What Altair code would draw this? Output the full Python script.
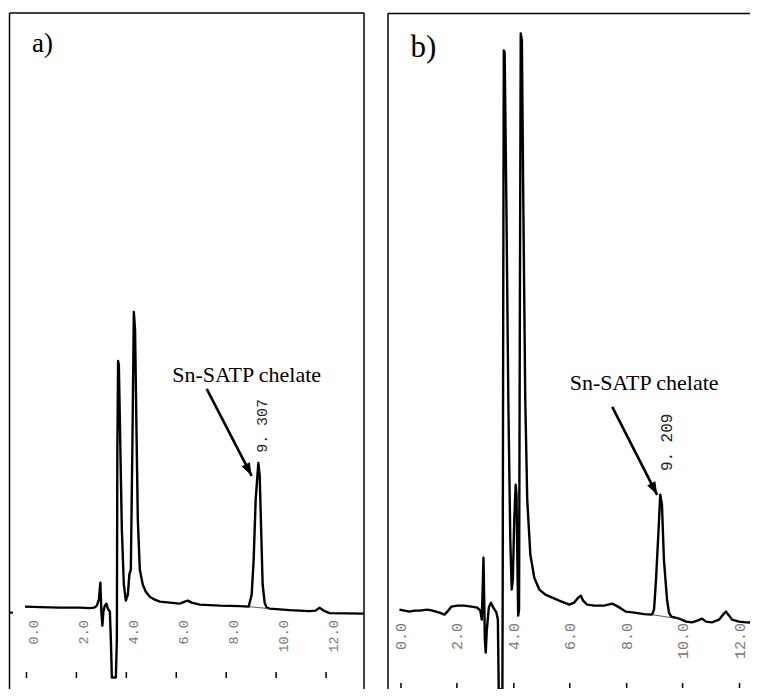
import altair as alt
import pandas as pd

# ---------------- data (time in min, signal in arbitrary units) ----------------
tick_values = [0, 2, 4, 6, 8, 10, 12]

a_time = [-0.04, 0.56, 1.36, 2.16, 2.56, 2.72, 2.84, 2.92, 2.98, 3.02, 3.06, 3.10, 3.16, 3.22,
          3.28, 3.36, 3.40, 3.44, 3.60, 3.64, 3.66, 3.69, 3.72, 3.76, 3.84, 3.92, 4.00, 4.08,
          4.14, 4.20, 4.26, 4.32, 4.37, 4.42, 4.48, 4.56, 4.68, 4.80, 4.96, 5.16, 5.36, 5.76,
          6.16, 6.36, 6.48, 6.64, 6.96, 7.76, 8.56, 8.92, 9.04, 9.12, 9.20, 9.307, 9.36, 9.42,
          9.48, 9.56, 9.64, 9.76, 10.56, 11.36, 11.60, 11.76, 11.92, 12.16, 13.52]
a_signal = [0, -0.5, -1, -1, -1.5, -1, 1, 7, 24, -5, -19, -5, 1, 3,
            -2, -5, -33, -71, -71, -33, 157, 246, 242, 187, 77, 22, 6, 12,
            32, 37, 157, 295, 277, 187, 87, 37, 22, 15, 10, 7, 5, 4,
            3, 5, 6, 4, 2, 1, 0.5, 0, 12, 47, 107, 144, 132, 77,
            22, 4, -1, -2, -3.5, -4.5, -4, -1, -4, -6.5, -7]

b_time = [-0.025, 0.15, 0.33, 0.51, 0.68, 0.97, 1.14, 1.39, 1.57, 1.67, 1.81, 2.03, 2.27, 2.52,
          2.73, 2.84, 2.89, 2.93, 2.95, 2.97, 3.00, 3.03, 3.07, 3.14, 3.21, 3.30, 3.41, 3.46,
          3.49, 3.62, 3.63, 3.65, 3.67, 3.70, 3.76, 3.83, 3.90, 3.95, 3.99, 4.04, 4.09, 4.12,
          4.15, 4.18, 4.21, 4.24, 4.27, 4.31, 4.36, 4.43, 4.50, 4.61, 4.75, 4.93, 5.14, 5.39,
          5.63, 5.81, 5.99, 6.16, 6.30, 6.40, 6.48, 6.62, 6.87, 7.22, 7.51, 7.65, 7.83, 8.00,
          8.29, 8.64, 8.92, 8.99, 9.06, 9.15, 9.209, 9.27, 9.34, 9.45, 9.52, 9.60, 9.88, 10.13,
          10.34, 10.52, 10.69, 10.83, 11.04, 11.29, 11.43, 11.54, 11.65, 11.75, 12.00, 12.25, 12.53]
b_signal = [0, -1, -2, -1, -1, 0, -1, -3, -5, -2, 3, 4, 4, 3,
            2, -1, -10, 30, 52, 20, -30, -43, -20, 2, 7, 2, -3, -10,
            -80, -80, 10, 310, 560, 558, 410, 210, 70, 20, 30, 90, 125, 115,
            50, -6, 0, 310, 577, 570, 410, 210, 110, 55, 32, 20, 15, 12,
            9, 7, 5, 7, 12, 14, 9, 5, 4, 4, 6, 4, 1, -2,
            -3, -4.5, -5, 0, 30, 80, 115, 105, 50, 10, -3, -7, -9, -12,
            -12.7, -11, -9, -12, -12.7, -10, -5, -2, -6, -10, -12, -12.7, -13]

# integration baselines under the chelate peaks
a_base_time = [8.92, 9.76]
a_base_signal = [0, -2]
b_base_time = [8.92, 10.05]
b_base_signal = [-5, -10]

# peak annotations
a_peak = {"t": 9.307, "s": 144, "label": "9. 307"}
b_peak = {"t": 9.209, "s": 115, "label": "9. 209"}
chelate_text = "Sn-SATP chelate"
a_text_pos = (8.84, 232)
b_text_pos = (8.64, 227)
a_arrow_t = [7.24, 9.04]
a_arrow_s = [218, 131]
b_arrow_t = [7.51, 9.10]
b_arrow_s = [203, 115]
a_letter = {"t": 0.24, "s": 555, "label": "a)"}
b_letter = {"t": 0.364, "s": 553, "label": "b)"}
a_zero_mark = -6  # small zero marker on the left border of panel a

ARROW_PATH = "M0,0L0.75,2.1L-0.75,2.1Z"


def make_panel(time, signal, base_t, base_s, peak, text_pos, arrow_t, arrow_s, letter,
               xdom, ydom, w, h, cfg, zero_mark=None):
    xs = alt.Scale(domain=xdom, nice=False, zero=False)
    ys = alt.Scale(domain=ydom, nice=False, zero=False)

    axis = alt.Axis(values=tick_values, format=".1f", title=None, grid=False, domain=False,
                    ticks=True, tickSize=cfg["ts"], tickWidth=1.5, tickColor="black",
                    labelAngle=270, labelPadding=cfg["lp"], labelOffset=cfg["lo"],
                    labelFont="Liberation Mono", labelFontSize=cfg["lfs"], labelColor="#777",
                    labelOverlap=False, labelFlush=False, labelBound=False)

    def X():
        return alt.X("t:Q", scale=xs, axis=axis)

    def Y():
        return alt.Y("s:Q", scale=ys, axis=None)

    trace = alt.Chart(pd.DataFrame({"t": time, "s": signal})).mark_line(
        color="black", strokeWidth=2.4, strokeJoin="round"
    ).encode(x=X(), y=Y())

    base = alt.Chart(pd.DataFrame({"t": base_t, "s": base_s})).mark_line(
        color="#333", strokeWidth=0.8
    ).encode(x=X(), y=Y())

    peak_lbl = alt.Chart(pd.DataFrame([peak])).mark_text(
        angle=270, align="center", baseline="middle", dx=cfg["pdx"], dy=cfg["pdy"],
        font="Liberation Mono", fontSize=cfg["pfs"], color="#222"
    ).encode(x=X(), y=Y(), text="label:N")

    chel = alt.Chart(pd.DataFrame({"t": [text_pos[0]], "s": [text_pos[1]],
                                   "label": [chelate_text]})).mark_text(
        align="center", baseline="middle", font="Liberation Serif", fontSize=22, color="black"
    ).encode(x=X(), y=Y(), text="label:N")

    shaft = alt.Chart(pd.DataFrame({"t": arrow_t, "s": arrow_s})).mark_line(
        color="black", strokeWidth=2.6, strokeCap="butt"
    ).encode(x=X(), y=Y())

    head = alt.Chart(pd.DataFrame({"t": [arrow_t[1]], "s": [arrow_s[1]]})).mark_point(
        shape=ARROW_PATH, filled=True, size=150, angle=cfg["ang"], color="black", opacity=1
    ).encode(x=X(), y=Y())

    let = alt.Chart(pd.DataFrame([letter])).mark_text(
        align="left", baseline="alphabetic", font="Liberation Serif",
        fontSize=cfg["letfs"], color="black"
    ).encode(x=X(), y=Y(), text="label:N")

    one = pd.DataFrame({"k": [0]})
    layers = [trace, base, peak_lbl, chel, shaft, head, let]
    layers.append(alt.Chart(one).mark_rule(color="black", strokeWidth=1.5).encode(
        x=alt.value(1.5), y=alt.value(cfg["top"]), y2=alt.value(700)))
    layers.append(alt.Chart(one).mark_rule(color="black", strokeWidth=1.5).encode(
        x=alt.value(1.5), x2=alt.value(cfg["right"]), y=alt.value(cfg["top"])))
    if cfg["right_border"]:
        layers.append(alt.Chart(one).mark_rule(color="black", strokeWidth=1.5).encode(
            x=alt.value(cfg["right"]), y=alt.value(cfg["top"]), y2=alt.value(700)))
    if zero_mark is not None:
        layers.append(alt.Chart(pd.DataFrame({"s": [zero_mark]})).mark_rule(
            color="black", strokeWidth=2).encode(
            x=alt.value(1.5), x2=alt.value(5), y=Y()))

    return alt.layer(*layers).properties(width=w, height=h)


panel_a = make_panel(a_time, a_signal, a_base_time, a_base_signal, a_peak, a_text_pos,
                     a_arrow_t, a_arrow_s, a_letter,
                     xdom=[-0.72, 13.6], ydom=[-65, 599], w=358, h=664,
                     cfg=dict(ts=6, lp=-58, lo=8, lfs=13.5, pdx=37, pdy=3.3, pfs=15, ang=152.65,
                              letfs=27, top=4.5, right=356.5, right_border=True),
                     zero_mark=a_zero_mark)

panel_b = make_panel(b_time, b_signal, b_base_time, b_base_signal, b_peak, b_text_pos,
                     b_arrow_t, b_arrow_s, b_letter,
                     xdom=[-0.484, 12.6], ydom=[-73, 602], w=370, h=675,
                     cfg=dict(ts=5, lp=-65, lo=0, lfs=15, pdx=52.5, pdy=7.2, pfs=16, ang=152.9,
                              letfs=31, top=5, right=370, right_border=False))

chart = alt.hconcat(panel_a, panel_b, spacing=21).properties(
    padding={"left": 0, "top": 0, "right": -7, "bottom": -20}
).configure_view(stroke=None)

chart.save("out.html", embed_options={"renderer": "svg", "actions": False})
